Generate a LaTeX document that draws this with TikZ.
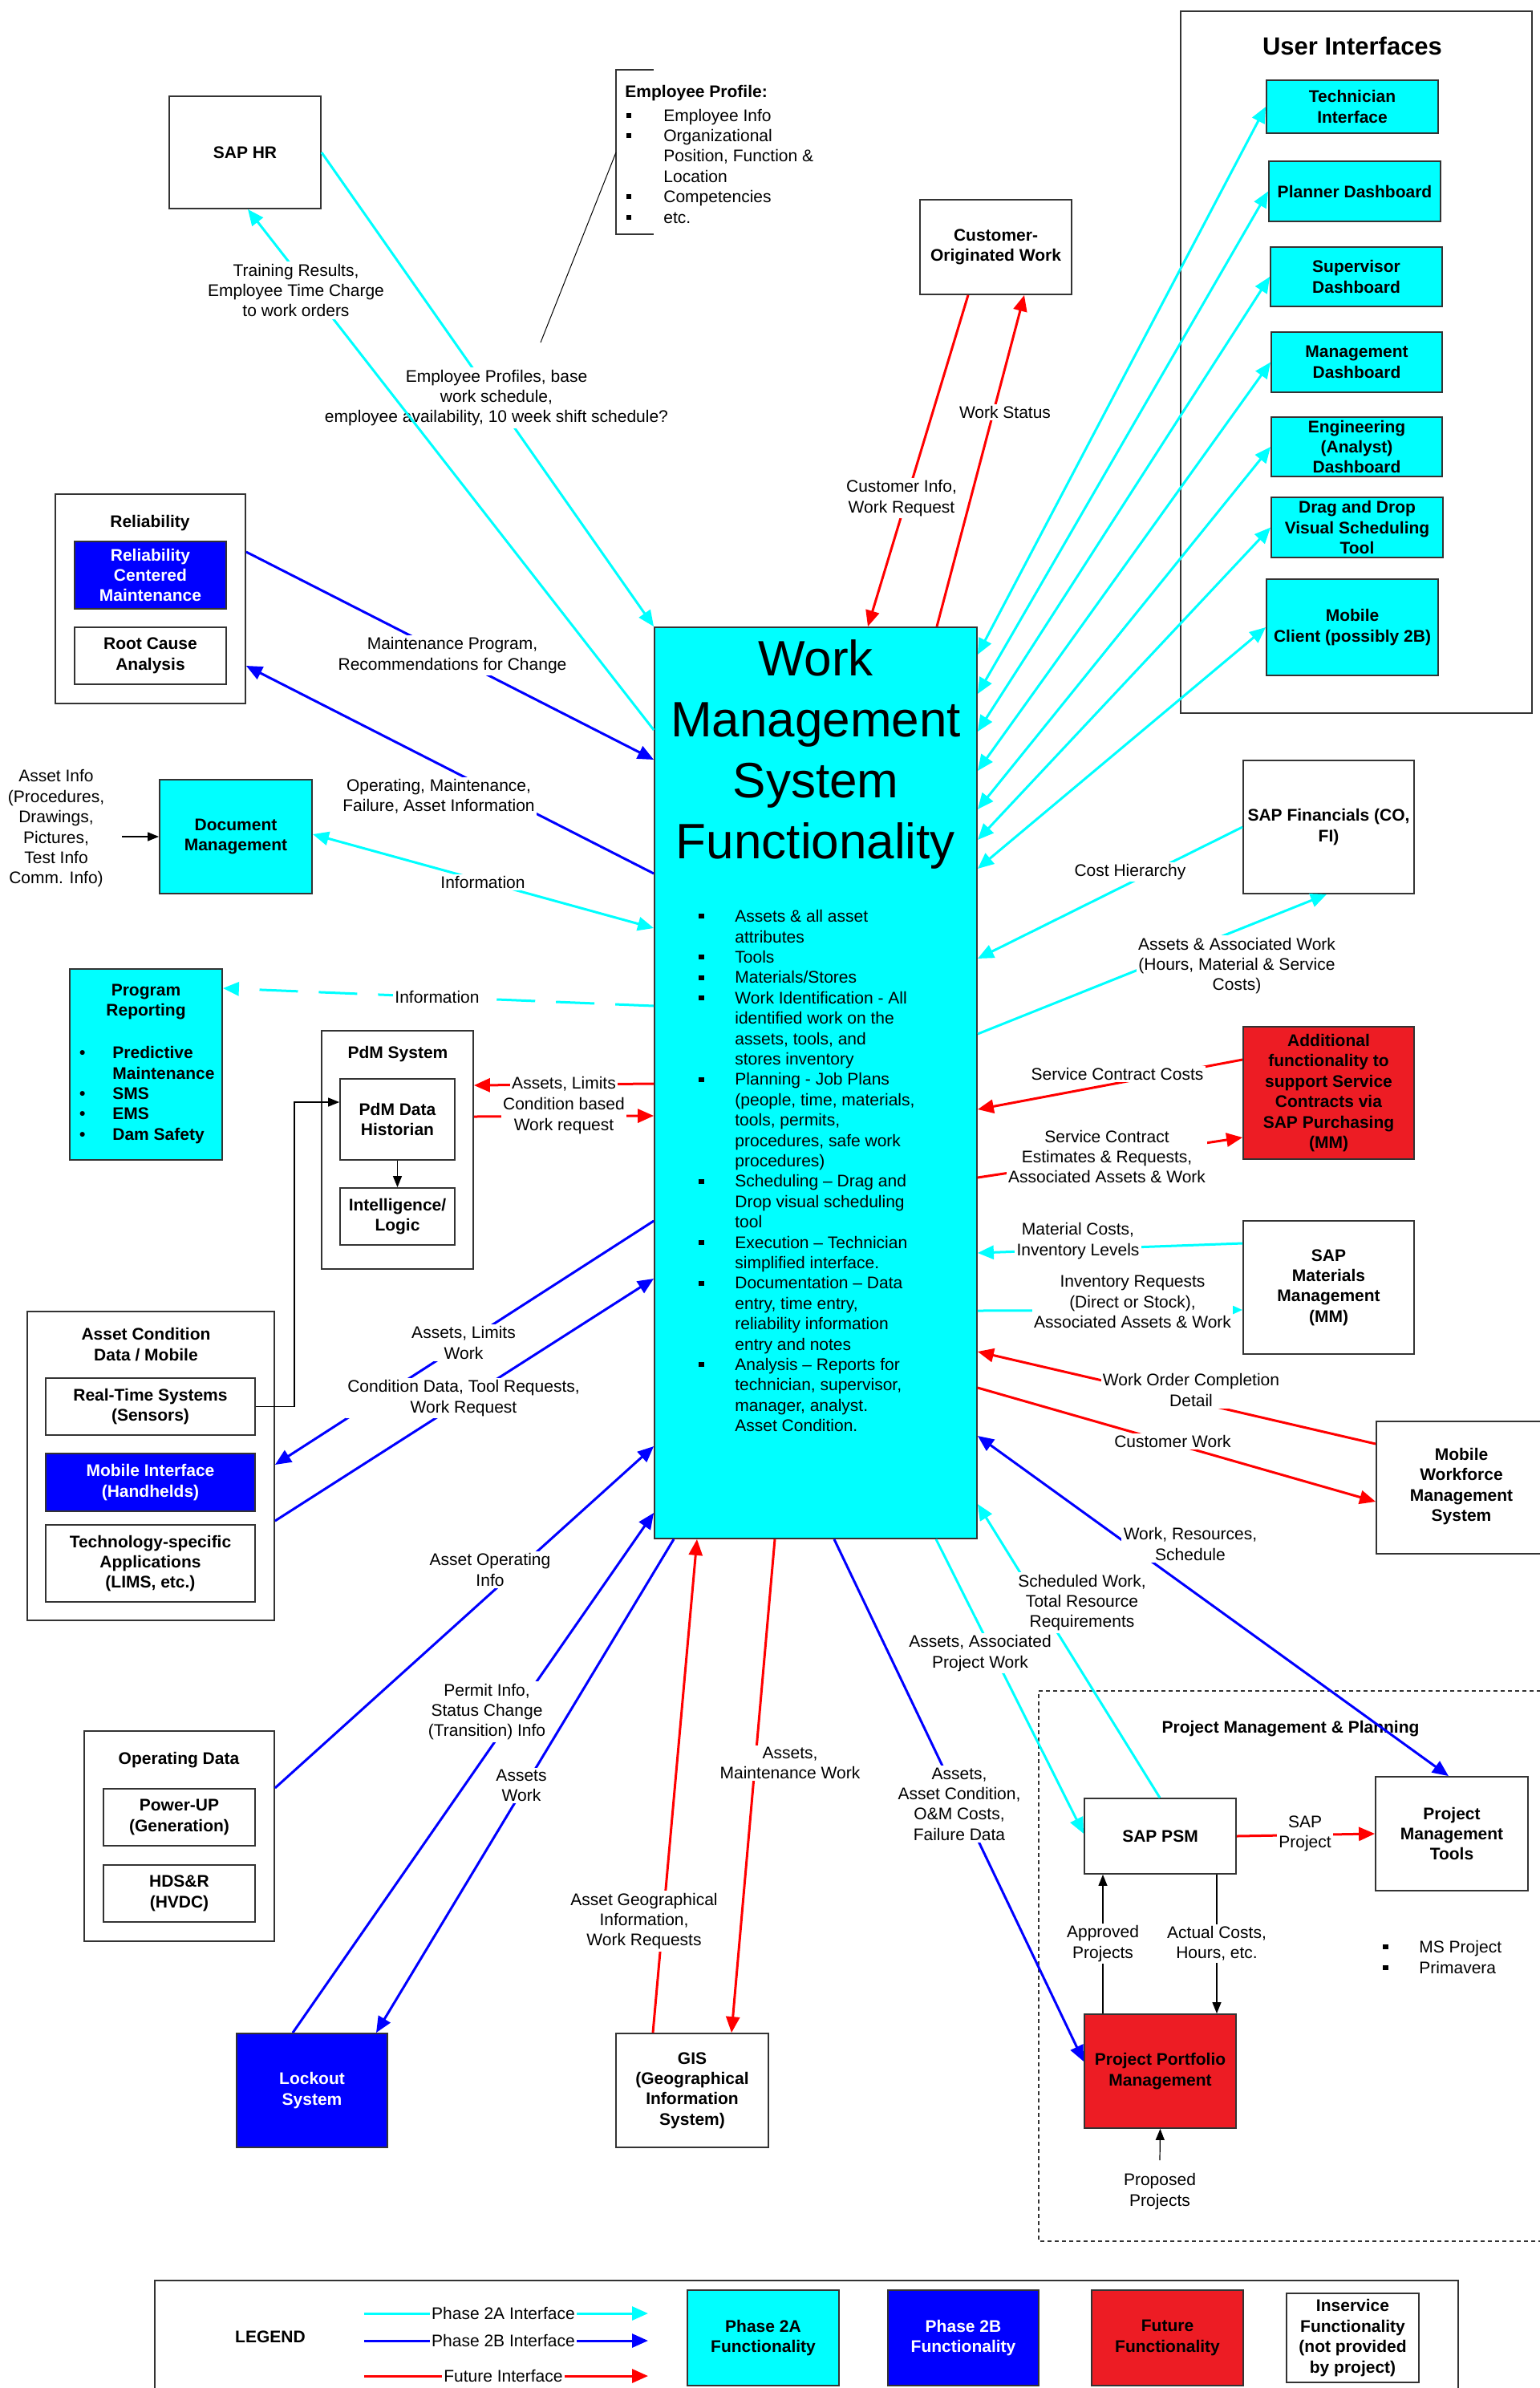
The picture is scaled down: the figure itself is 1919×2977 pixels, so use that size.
\documentclass[tikz,border=0pt]{standalone}
\usepackage{fontspec}
\setmainfont{Liberation Sans}
\usetikzlibrary{arrows.meta}
\definecolor{cy}{HTML}{00FFFF}
\definecolor{bl}{HTML}{0000FF}
\definecolor{rd}{HTML}{FF0000}
\definecolor{rdbox}{HTML}{ED1C24}
\definecolor{edge}{HTML}{333333}
\newcommand\sqb{\llap{\rule[0.2em]{3.5pt}{3pt}\hspace{19pt}}}
\newcommand\epb{\hspace*{24pt}\llap{\rule[0.2em]{3pt}{3pt}\hspace{20pt}}}
\newcommand\epn{\hspace*{24pt}}
\newcommand\rdb{\llap{\textbullet\hspace{17pt}}}
\begin{document}
\begin{tikzpicture}[x=0.5pt,y=-0.5pt,
  >={Triangle[length=10pt,width=8.5pt]},
  txt/.style={inner sep=0pt,align=center,font=\fontsize{10.5}{12.7}\selectfont},
  ttl/.style={txt,font=\fontsize{10.5}{12.7}\selectfont\bfseries},
  lbl/.style={txt,fill=white,inner sep=1.2pt},
  bx/.style={draw=edge,line width=0.9pt,inner sep=0pt,align=center,font=\fontsize{10.5}{12.7}\selectfont\bfseries},
  abox/.style args={#1/#2/#3/#4}{minimum width={(#3-#1)*0.5pt},minimum height={(#4-#2)*0.5pt},at={({(#1+#3)/2},{(#2+#4)/2})}},
  cyl/.style={draw=cy,line width=1.5pt},
  bll/.style={draw=bl,line width=1.5pt},
  rdl/.style={draw=rd,line width=1.5pt},
  blk/.style={draw=black,line width=0.6pt,>={Triangle[length=7pt,width=5.5pt]}},
]
\path[use as bounding box,fill=white] (0,0) rectangle (1919,2977);

% ---------------- main box
\node[bx,fill=cy,abox=816/782/1218/1918] (wms) {};
\node[txt,font=\fontsize{31}{38}\selectfont] (wmstitle) at (1017,940) {Work\\Management\\System\\Functionality};
\node[txt,align=left,anchor=north west] (wmslist) at (916,1134) {\sqb Assets \& all asset\\
attributes\\
\sqb Tools\\
\sqb Materials/Stores\\
\sqb Work Identification - All\\
identified work on the\\
assets, tools, and\\
stores inventory\\
\sqb Planning - Job Plans\\
(people, time, materials,\\
tools, permits,\\
procedures, safe work\\
procedures)\\
\sqb Scheduling – Drag and\\
Drop visual scheduling\\
tool\\
\sqb Execution – Technician\\
simplified interface.\\
\sqb Documentation – Data\\
entry, time entry,\\
reliability information\\
entry and notes\\
\sqb Analysis – Reports for\\
technician, supervisor,\\
manager, analyst.\\
Asset Condition.};

% ---------------- user interfaces
\node[bx,abox=1472/14/1910/889] (ui) {};
\node[txt,font=\fontsize{15.5}{18}\selectfont\bfseries] (uititle) at (1686,57) {User Interfaces};
\node[bx,fill=cy,abox=1579/100/1793/166] (tech) {Technician\\Interface};
\node[bx,fill=cy,abox=1582/201/1796/276] (planner) {Planner Dashboard};
\node[bx,fill=cy,abox=1584/308/1798/382] (superv) {Supervisor\\Dashboard};
\node[bx,fill=cy,abox=1585/414/1798/489] (mgmt) {Management\\Dashboard};
\node[bx,fill=cy,abox=1585/520/1798/594] (eng) {Engineering\\(Analyst)\\Dashboard};
\node[bx,fill=cy,abox=1585/620/1799/695] (dnd) {Drag and Drop\\Visual Scheduling\\Tool};
\node[bx,fill=cy,abox=1579/722/1793/842] (mobcl) {Mobile\\Client (possibly 2B)};

\draw[cyl,<->] (wms.east |- 0,816) -- (tech.west);
\draw[cyl,<->] (wms.east |- 0,865) -- (planner.west);
\draw[cyl,<->] (wms.east |- 0,912) -- (superv.west);
\draw[cyl,<->] (wms.east |- 0,961) -- (mgmt.west);
\draw[cyl,<->] (wms.east |- 0,1009) -- (eng.west);
\draw[cyl,<->] (wms.east |- 0,1047) -- (dnd.west);
\draw[cyl,<->] (wms.east |- 0,1083) -- (mobcl.west);

% ---------------- SAP HR and employee profile
\node[bx,abox=211/120/400/260] (saphr) {SAP HR};
\draw[edge,line width=0.8pt] (815,87) -- (768,87) -- (768,292) -- (815,292);
\node[txt,align=left,anchor=north west] (eprof) at (779,106) {\textbf{Employee Profile:}\\[2pt]
\epb Employee Info\\
\epb Organizational\\
\epn Position, Function \&\\
\epn Location\\
\epb Competencies\\
\epb etc.};
\coordinate (epc) at (768,190);
\coordinate (epe) at (674,427);
\draw[black,line width=0.5pt] (epc) -- (epe);

\draw[cyl,->] (saphr.east) -- (wms.north west);
\node[lbl] (lblemp) at (619,496) {Employee Profiles, base\\work schedule,\\employee availability, 10 week shift schedule?};
\draw[cyl,->] (wms.west |- 0,910) -- (saphr.south -| 309,0);
\node[lbl] (lbltr) at (369,362) {Training Results,\\Employee Time Charge\\to work orders};

% ---------------- customer originated work
\node[bx,abox=1147/249/1336/367] (cust) {Customer-\\Originated Work};
\draw[rdl,->] (cust.south -| 1207,0) -- (wms.north -| 1082,0);
\draw[rdl,->] (wms.north -| 1168,0) -- (cust.south -| 1277,0);
\node[lbl] (lblci) at (1124,621) {Customer Info,\\Work Request};
\node[lbl] (lblws) at (1253,514) {Work Status};

% ---------------- reliability
\node[bx,abox=69/616/306/877] (rel) {};
\node[ttl] (reltitle) at (187,652) {Reliability};
\node[bx,fill=bl,text=white,abox=93/675/282/759] (rcm) {Reliability\\Centered\\Maintenance};
\node[bx,abox=93/782/282/853] (rca) {Root Cause\\Analysis};
\draw[bll,->] (rel.east |- 0,688) -- (wms.west |- 0,947);
\draw[bll,->] (wms.west |- 0,1089) -- (rel.east |- 0,830);
\node[lbl] (lblmp) at (564,817) {Maintenance Program,\\Recommendations for Change};
\node[lbl] (lblom) at (547,993) {Operating, Maintenance,\\Failure, Asset Information};

% ---------------- document management
\node[bx,fill=cy,abox=199/972/389/1114] (docm) {Document\\Management};
\node[txt] (assetinfo) at (70,1033) {Asset Info\\(Procedures,\\Drawings,\\Pictures,\\Test Info\\Comm. Info)};
\coordinate (aiend) at (152,1043);
\draw[blk,->] (aiend) -- (docm.west |- aiend);
\draw[cyl,<->] (wms.west |- 0,1157) -- (docm.east |- 0,1040);
\node[lbl] (lblinf1) at (602,1100) {Information};

% ---------------- program reporting
\node[bx,fill=cy,abox=87/1208/277/1446] (prog) {};
\node[ttl] (progt) at (182,1249) {Program\\Reporting};
\node[ttl,align=left,anchor=north west] (progl) at (140,1304) {\rdb Predictive\\Maintenance\\\rdb SMS\\\rdb EMS\\\rdb Dam Safety};
\draw[cyl,->,dash pattern=on 24pt off 13pt] (wms.west |- 0,1254) -- (prog.east |- 0,1232);
\node[lbl] (lblinf2) at (545,1243) {Information};

% ---------------- PdM system
\node[bx,abox=401/1285/590/1582] (pdm) {};
\node[ttl] (pdmt) at (496,1314) {PdM System};
\node[bx,abox=424/1345/567/1446] (hist) {PdM Data\\Historian};
\node[bx,abox=424/1481/567/1552] (intel) {Intelligence/\\Logic};
\draw[blk,->] (hist.south) -- (intel.north);
\draw[rdl,->] (wms.west |- 0,1351) -- (pdm.east |- 0,1353);
\draw[rdl,->] (pdm.east |- 0,1392) -- (wms.west |- 0,1391);
\node[lbl] (lblal) at (703,1351) {Assets, Limits};
\node[lbl] (lblcb) at (703,1391) {Condition based\\Work request};

% ---------------- asset condition data
\node[bx,abox=34/1635/342/2020] (acd) {};
\node[ttl] (acdt) at (182,1676) {Asset Condition\\Data / Mobile};
\node[bx,abox=57/1718/318/1789] (rts) {Real-Time Systems\\(Sensors)};
\node[bx,fill=bl,text=white,abox=57/1812/318/1884] (mobi) {Mobile Interface\\(Handhelds)};
\node[bx,abox=57/1901/318/1997] (techapp) {Technology-specific\\Applications\\(LIMS, etc.)};
\draw[blk,->] (rts.east) -- ++(48,0) |- (hist.west |- 0,1374);
\draw[bll,->] (wms.west |- 0,1522) -- (acd.east |- 0,1826);
\draw[bll,->] (acd.east |- 0,1896) -- (wms.west |- 0,1594);
\node[lbl] (lblalw) at (578,1674) {Assets, Limits\\Work};
\node[lbl] (lblcd) at (578,1743) {Condition Data, Tool Requests,\\Work Request};

% ---------------- operating data
\node[bx,abox=105/2158/342/2420] (opd) {};
\node[ttl] (opdt) at (223,2194) {Operating Data};
\node[bx,abox=129/2230/318/2301] (pup) {Power-UP\\(Generation)};
\node[bx,abox=129/2325/318/2396] (hds) {HDS\&R\\(HVDC)};
\draw[bll,->] (opd.east |- 0,2229) -- (wms.west |- 0,1803);
\node[lbl] (lblaoi) at (611,1957) {Asset Operating\\Info};

% ---------------- lockout
\node[bx,fill=bl,text=white,abox=295/2535/483/2677] (lock) {Lockout\\System};
\draw[bll,->] (lock.north -| 365,0) -- (wms.west |- 0,1886);
\draw[bll,->] (wms.south -| 840,0) -- (lock.north -| 469,0);
\node[lbl] (lblpi) at (607,2134) {Permit Info,\\Status Change\\(Transition) Info};
\node[lbl] (lblaw) at (650,2226) {Assets\\Work};

% ---------------- GIS
\node[bx,abox=768/2535/958/2677] (gis) {GIS\\(Geographical\\Information\\System)};
\draw[rdl,->] (gis.north -| 814,0) -- (wms.south -| 869,0);
\draw[rdl,->] (wms.south -| 966,0) -- (gis.north -| 912,0);
\node[lbl] (lblag) at (803,2395) {Asset Geographical\\Information,\\Work Requests};
\node[lbl] (lblamw) at (985,2198) {Assets,\\Maintenance Work};

% ---------------- project management & planning
\draw[edge,line width=0.6pt,dash pattern=on 2.5pt off 2pt] (1930,2108) -- (1295,2108) -- (1295,2794) -- (1930,2794);
\node[ttl] (pmpt) at (1609,2155) {Project Management \& Planning};
\node[bx,abox=1352/2242/1541/2336] (psm) {SAP PSM};
\node[bx,abox=1715/2215/1905/2357] (pmt) {Project\\Management\\Tools};
\node[bx,fill=rdbox,abox=1352/2511/1541/2653] (ppm) {Project Portfolio\\Management};
\node[txt,align=left,anchor=north west] (msp) at (1769,2419) {\sqb MS Project\\\sqb Primavera};
\draw[rdl,->] (psm.east |- 0,2289) -- (pmt.west |- 0,2286);
\node[lbl] (lblsp) at (1627,2286) {SAP\\Project};
\draw[blk,->] (ppm.north -| 1375,0) -- (psm.south -| 1375,0);
\draw[blk,->] (psm.south -| 1517,0) -- (ppm.north -| 1517,0);
\node[lbl] (lblap) at (1375,2423) {Approved\\Projects};
\node[lbl] (lblac) at (1517,2423) {Actual Costs,\\Hours, etc.};
\node[txt] (lblpp) at (1446,2732) {Proposed\\Projects};
\draw[blk,->] ([yshift=8pt]lblpp.north) -- (ppm.south);

\draw[bll,->] (wms.south -| 1040,0) -- (ppm.west |- 0,2570);
\node[lbl] (lblacf) at (1196,2249) {Assets,\\Asset Condition,\\O\&M Costs,\\Failure Data};
\draw[cyl,->] (wms.south -| 1167,0) -- (psm.west |- 0,2286);
\node[lbl] (lblapw) at (1222,2061) {Assets, Associated\\Project Work};
\draw[cyl,->] (psm.north -| 1446,0) -- (wms.east |- 0,1875);
\node[lbl] (lblsw) at (1349,1998) {Scheduled Work,\\Total Resource\\Requirements};
\draw[bll,<->] (wms.east |- 0,1790) -- (pmt.north -| 1806,0);
\node[lbl] (lblwrs) at (1484,1925) {Work, Resources,\\Schedule};

% ---------------- right side systems
\node[bx,abox=1550/948/1763/1114] (sapfin) {SAP Financials (CO,\\FI)};
\draw[cyl,->] (sapfin.west) -- (wms.east |- 0,1195);
\node[lbl] (lblch) at (1409,1087) {Cost Hierarchy};
\draw[cyl,->] (wms.east |- 0,1289) -- (sapfin.south -| 1654,0);
\node[lbl] (lblaaw) at (1542,1204) {Assets \& Associated Work\\(Hours, Material \& Service\\Costs)};

\node[bx,fill=rdbox,abox=1550/1280/1763/1445] (addf) {Additional\\functionality to\\support Service\\Contracts via\\SAP Purchasing\\(MM)};
\draw[rdl,->] (addf.west |- 0,1321) -- (wms.east |- 0,1383);
\node[lbl] (lblscc) at (1393,1339) {Service Contract Costs};
\draw[rdl,->] (wms.east |- 0,1468) -- (addf.west |- 0,1418);
\node[lbl] (lblsce) at (1380,1442) {Service Contract\\Estimates \& Requests,\\Associated Assets \& Work};

\node[bx,abox=1550/1522/1763/1688] (sapmm) {SAP\\Materials\\Management\\(MM)};
\draw[cyl,->] (sapmm.west |- 0,1550) -- (wms.east |- 0,1562);
\node[lbl] (lblmc) at (1344,1547) {Material Costs,\\Inventory Levels};
\draw[cyl,->] (wms.east |- 0,1634) -- (sapmm.west |- 0,1633);
\node[lbl] (lblir) at (1412,1623) {Inventory Requests\\(Direct or Stock),\\Associated Assets \& Work};

\node[bx,abox=1716/1772/1930/1937] (mwf) {};
\node[ttl] (mwft) at (1822,1853) {Mobile\\Workforce\\Management\\System};
\draw[rdl,->] (mwf.west |- 0,1800) -- (wms.east |- 0,1685);
\node[lbl] (lblwoc) at (1485,1733) {Work Order Completion\\Detail};
\draw[rdl,->] (wms.east |- 0,1730) -- (mwf.west |- 0,1872);
\node[lbl] (lblcw) at (1462,1797) {Customer Work};

% ---------------- legend
\draw[edge,line width=0.9pt] (193,3010) -- (193,2843) -- (1818,2843) -- (1818,3010);
\node[ttl] (legt) at (337,2913) {LEGEND};
\coordinate (l2as) at (454,2884); \coordinate (l2ae) at (808,2884);
\coordinate (l2bs) at (454,2918); \coordinate (l2be) at (808,2918);
\coordinate (lfs) at (454,2962); \coordinate (lfe) at (808,2962);
\draw[cyl,->] (l2as) -- node[lbl,pos=0.49] (l2al) {Phase 2A Interface} (l2ae);
\draw[bll,->] (l2bs) -- node[lbl,pos=0.49] (l2bl) {Phase 2B Interface} (l2be);
\draw[rdl,->] (lfs) -- node[lbl,pos=0.49] (lfl) {Future Interface} (lfe);
\node[bx,fill=cy,abox=857/2855/1046/2974] (leg2a) {Phase 2A\\Functionality};
\node[bx,fill=bl,text=white,abox=1107/2855/1295/2974] (leg2b) {Phase 2B\\Functionality};
\node[bx,fill=rdbox,abox=1361/2855/1550/2974] (legf) {Future\\Functionality};
\node[bx,abox=1604/2859/1769/2970] (legin) {Inservice\\Functionality\\(not provided\\by project)};
\end{tikzpicture}
\end{document}
